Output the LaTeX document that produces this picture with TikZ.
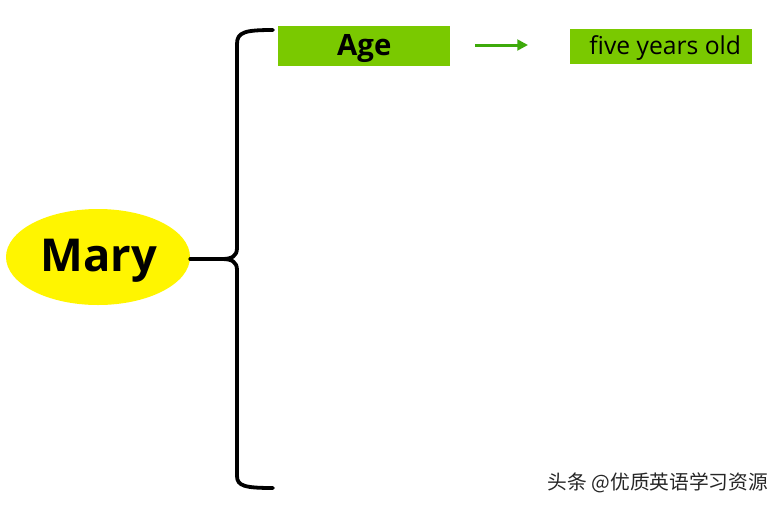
\documentclass[tikz,border=0pt]{standalone}
\usepackage{fontspec}
\setmainfont{Open Sans}
\newfontfamily\cjk{Noto Sans CJK SC}
\usetikzlibrary{shapes.geometric,arrows.meta}
\definecolor{boxgreen}{HTML}{7AC900}
\definecolor{arrgreen}{HTML}{3DAA0A}
\definecolor{maryyellow}{HTML}{FFF500}
\tikzset{
  greenbox/.style={fill=boxgreen,draw=none,inner sep=0pt,anchor=north west},
  bracestroke/.style={line width=3.8pt*0.75,black,line cap=round,line join=round},
}
\begin{document}
\begin{tikzpicture}[x=0.75pt,y=-0.75pt]
\useasboundingbox (0,0) rectangle (782,508);
\node[ellipse,fill=maryyellow,minimum width=184*0.75pt,minimum height=96*0.75pt,inner sep=0pt] (mary) at (98,257) {};
\node at (99,261) {\fontsize{34}{38}\selectfont\bfseries Mary};
\node[greenbox,minimum width=172*0.75pt,minimum height=40*0.75pt] (age) at (278,26) {};
\node at ([yshift=-1.5pt]age.center) {\fontsize{22}{24}\selectfont\bfseries Age};
\node[greenbox,minimum width=182*0.75pt,minimum height=35*0.75pt] (five) at (570,29) {};
\node at ([xshift=3pt,yshift=-1pt]five.center) {\fontsize{18.5}{20}\selectfont five years old};
\coordinate (tip) at (222,259);
\coordinate (top) at (273,30);
\coordinate (bot) at (273,488);
\draw[bracestroke] (mary.east |- tip) -- (tip);
\draw[bracestroke] (top) .. controls (245,30) and (237,32) .. (237,44) -- (237,248)
  .. controls (237,256) and (232,259) .. (tip)
  .. controls (232,259) and (237,262) .. (237,270) -- (237,476)
  .. controls (237,486) and (245,488) .. (bot);
\coordinate (a1) at (475,45);
\coordinate (a2) at (528,45);
\draw[arrgreen,line width=3pt*0.75,-{Triangle[length=8pt,width=8pt]}] (a1) -- (a2);
\node[anchor=west,text=black!85] (wm) at (543,483) {\cjk\fontsize{14.8}{17}\selectfont 头条 @优质英语学习资源};
\end{tikzpicture}
\end{document}
